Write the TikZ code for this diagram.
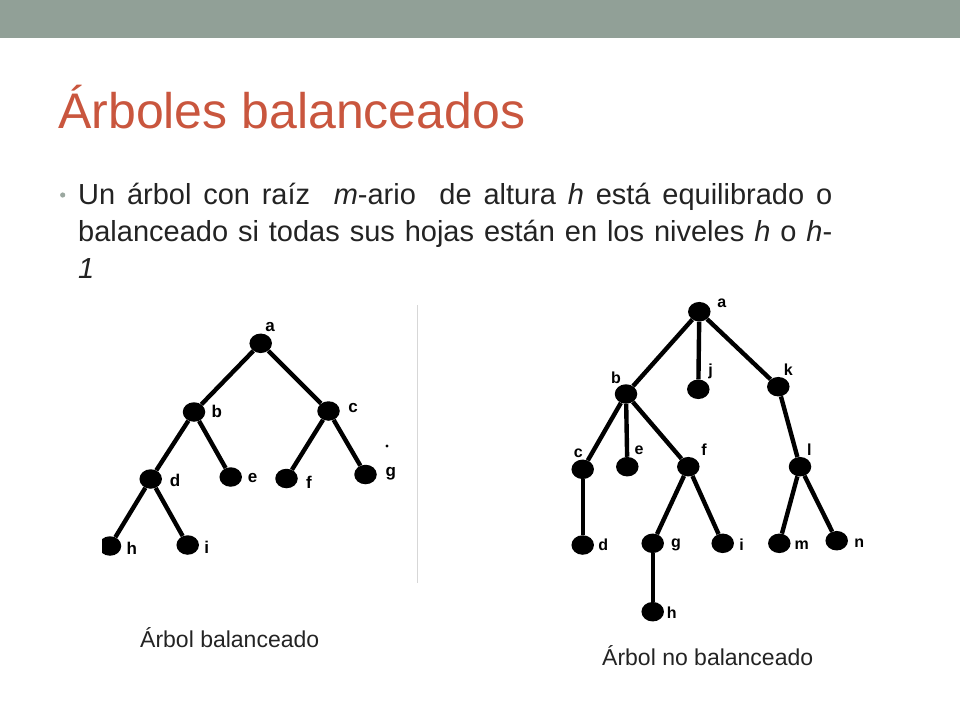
\documentclass[tikz,border=0pt]{standalone}
\usepackage{fontspec}
\setmainfont{Liberation Sans}
\usetikzlibrary{shapes.geometric}

\definecolor{barcolor}{RGB}{145,160,151}
\definecolor{titlecolor}{RGB}{201,86,62}
\definecolor{bodytext}{RGB}{35,35,35}
\definecolor{bulletcolor}{RGB}{155,168,160}
\definecolor{sepcolor}{RGB}{215,215,215}

\tikzset{
  vertex/.style={ellipse,fill=black,inner sep=0pt,minimum width=22.5pt,minimum height=19.5pt},
  treeline/.style={line width=4.4pt},
  vlabel/.style={inner sep=0pt,font=\bfseries\fontsize{17}{17}\selectfont},
  rlabel/.style={inner sep=0pt,font=\bfseries\fontsize{16}{16}\selectfont},
  caption/.style={inner sep=0pt,anchor=base west,text=bodytext,font=\fontsize{23}{23}\selectfont}
}

\begin{document}
\begin{tikzpicture}[x=1pt,y=-1pt]
\useasboundingbox (0,0) rectangle (960,720);
\fill[barcolor] (0,0) rectangle (960,37.5);

% title and text
\node[inner sep=0pt,anchor=base west,text=titlecolor,font=\fontsize{50}{60}\selectfont] (title) at (58,128) {Árboles balanceados};
\fill[bulletcolor] (62.7,195) circle (2.6);
\node[inner sep=0pt,anchor=base west,text=bodytext,font=\fontsize{29}{29}\selectfont] (line1) at (78,204)
  {\makebox[754pt][s]{Un árbol con raíz\ \ \textit{m}-ario\ \ de altura \textit{h} está equilibrado o}};
\node[inner sep=0pt,anchor=base west,text=bodytext,font=\fontsize{29}{29}\selectfont] (line2) at (78,241)
  {\makebox[754pt][s]{balanceado si todas sus hojas están en los niveles \textit{h} o \textit{h}-}};
\node[inner sep=0pt,anchor=base west,text=bodytext,font=\fontsize{29}{29}\selectfont] (line3) at (78,278) {\textit{1}};

% balanced tree (cut at the left edge)
\begin{scope}
\clip (102,290) rectangle (416,600);
\node[vertex] (L-a) at (260.7,343.3) {};
\node[vertex] (L-b) at (194,412) {};
\node[vertex] (L-c) at (328.5,411) {};
\node[vertex] (L-d) at (150.7,479) {};
\node[vertex] (L-e) at (230.7,477) {};
\node[vertex] (L-f) at (286.5,478.5) {};
\node[vertex] (L-g) at (365.5,474.5) {};
\node[vertex] (L-h) at (110,546) {};
\node[vertex] (L-i) at (187.7,545) {};
\draw[treeline] (L-a) -- (L-b);
\draw[treeline] (L-a) -- (L-c);
\draw[treeline] (L-b) -- (L-d);
\draw[treeline] (L-b) -- (L-e);
\draw[treeline] (L-c) -- (L-f);
\draw[treeline] (L-c) -- (L-g);
\draw[treeline] (L-d) -- (L-h);
\draw[treeline] (L-d) -- (L-i);
\node[vlabel] (Lt-a) at (270,327) {a};
\node[vlabel] (Lt-b) at (216.7,411.7) {b};
\node[vlabel] (Lt-c) at (353,408) {c};
\node[vlabel] (Lt-d) at (175,480) {d};
\node[vlabel] (Lt-e) at (252.7,478) {e};
\node[vlabel] (Lt-f) at (309,482) {f};
\node[vlabel] (Lt-g) at (390.7,474) {g};
\node[vlabel] (Lt-h) at (131.7,548) {h};
\node[vlabel] (Lt-i) at (206.7,547) {i};
\fill (387,446) circle (1.6);
\end{scope}

\draw[sepcolor,line width=1.2pt] (417.3,305) -- (417.3,583);

% unbalanced tree
\node[vertex] (R-a) at (699.3,311.7) {};
\node[vertex] (R-b) at (626,394) {};
\node[vertex] (R-j) at (698.3,389.3) {};
\node[vertex] (R-k) at (778.3,386.7) {};
\node[vertex] (R-c) at (582.7,469.3) {};
\node[vertex] (R-e) at (627.3,466.7) {};
\node[vertex] (R-f) at (688.3,466.7) {};
\node[vertex] (R-l) at (800,466.7) {};
\node[vertex] (R-d) at (582.7,545) {};
\node[vertex] (R-g) at (652.7,543.3) {};
\node[vertex] (R-i) at (722.7,543.3) {};
\node[vertex] (R-m) at (779.3,543.3) {};
\node[vertex] (R-n) at (836.7,540.7) {};
\node[vertex] (R-h) at (652.7,611.7) {};
\draw[treeline] (R-a) -- (R-b);
\draw[treeline] (R-a) -- (R-j);
\draw[treeline] (R-a) -- (R-k);
\draw[treeline] (R-b) -- (R-c);
\draw[treeline] (R-b) -- (R-e);
\draw[treeline] (R-b) -- (R-f);
\draw[treeline] (R-c) -- (R-d);
\draw[treeline] (R-f) -- (R-g);
\draw[treeline] (R-f) -- (R-i);
\draw[treeline] (R-g) -- (R-h);
\draw[treeline] (R-k) -- (R-l);
\draw[treeline] (R-l) -- (R-m);
\draw[treeline] (R-l) -- (R-n);
\node[rlabel] (Rt-a) at (721.7,303.3) {a};
\node[rlabel] (Rt-j) at (710.7,371.7) {j};
\node[rlabel] (Rt-k) at (788.3,370) {k};
\node[rlabel] (Rt-b) at (616,377.3) {b};
\node[rlabel] (Rt-c) at (578.3,453.3) {c};
\node[rlabel] (Rt-e) at (639,450) {e};
\node[rlabel] (Rt-f) at (704,449.3) {f};
\node[rlabel] (Rt-l) at (809.3,450) {l};
\node[rlabel] (Rt-d) at (603.3,545) {d};
\node[rlabel] (Rt-g) at (676,545) {g};
\node[rlabel] (Rt-i) at (741.7,545) {i};
\node[rlabel] (Rt-m) at (801.7,545) {m};
\node[rlabel] (Rt-n) at (859.3,543.3) {n};
\node[rlabel] (Rt-h) at (671.7,613) {h};

% captions
\node[caption] (cap-bal) at (140,647) {Árbol balanceado};
\node[caption] (cap-nobal) at (602,665) {Árbol no balanceado};
\end{tikzpicture}
\end{document}
